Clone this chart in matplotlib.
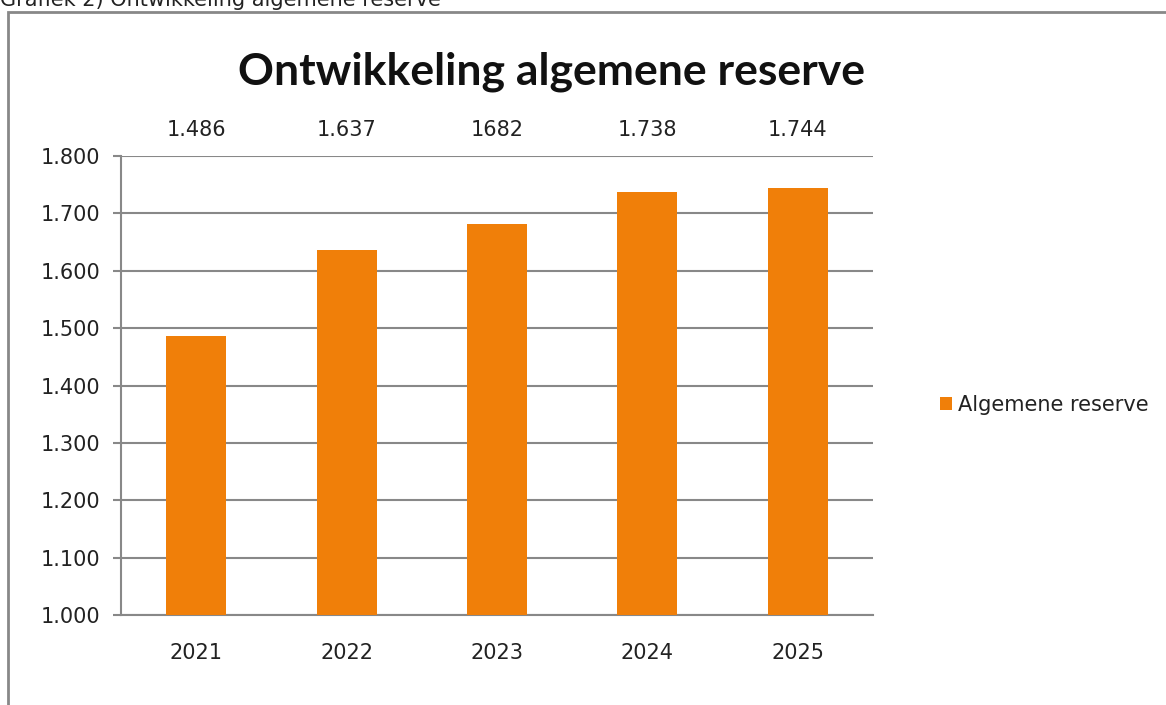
import matplotlib.pyplot as plt
import matplotlib.patches as mpatches
import matplotlib.transforms as mtransforms
import numpy as np

years = ['2021', '2022', '2023', '2024', '2025']
reserve = [1486, 1637, 1682, 1738, 1744]
value_labels = ['1.486', '1.637', '1682', '1.738', '1.744']
y_ticks = [1000, 1100, 1200, 1300, 1400, 1500, 1600, 1700, 1800]
y_tick_labels = ['1.000', '1.100', '1.200', '1.300', '1.400', '1.500', '1.600', '1.700', '1.800']

orange = '#F07F09'
grey = '#888888'
txt = '#222222'

plt.rcParams['font.family'] = ['DejaVu Sans']

fig = plt.figure(figsize=(11.66, 7.05), dpi=100)
W, H = 1166, 705

# outer chart frame (runs off the right and bottom edge)
frame = mpatches.Rectangle((8 / W, -0.1), 1.2, 1 - 12 / H + 0.1, transform=fig.transFigure,
                           fill=False, edgecolor=grey, linewidth=2, clip_on=False)
fig.patches.append(frame)

# caption above the frame, cut off by the top edge as in the original
fig.text(0.0, 1 - 6 / H, 'Grafiek 2) Ontwikkeling algemene reserve', fontsize=15,
         ha='left', va='baseline', color=txt)

ax = fig.add_axes([121 / W, 1 - 615 / H, (873 - 121) / W, (615 - 156) / H])
x = np.arange(len(years))
ax.bar(x, reserve, width=0.4, color=orange, label='Algemene reserve', zorder=3)

ax.set_xlim(-0.5, len(years) - 0.5)
ax.set_ylim(1000, 1800)
ax.set_yticks(y_ticks)
ax.set_yticklabels(y_tick_labels)
ax.set_xticks(x)
ax.set_xticklabels(years)
ax.tick_params(axis='y', length=6, color=grey, width=1.5, labelsize=15, pad=9, labelcolor=txt)
ax.tick_params(axis='x', length=0, labelsize=15, pad=20, labelcolor=txt)
ax.grid(axis='y', color=grey, linewidth=1.5, zorder=0)

for side in ['top', 'right']:
    ax.spines[side].set_visible(False)
for side in ['left', 'bottom']:
    ax.spines[side].set_color(grey)
    ax.spines[side].set_linewidth(1.5)

# value labels sit in a row above the plot area
row = mtransforms.blended_transform_factory(ax.transData, fig.transFigure)
for xi, lab in zip(x, value_labels):
    ax.text(xi, 1 - 130 / H, lab, transform=row, ha='center', va='center',
            fontsize=15, color=txt)

fig.text(552 / W, 1 - 72 / H, 'Ontwikkeling algemene reserve', ha='center', va='center',
         fontsize=32, fontweight='bold', family='Lato', color='#111111')

ax.legend(loc='center left', bbox_to_anchor=(921 / W, 1 - 405 / H), bbox_transform=fig.transFigure,
          frameon=False, fontsize=15, handlelength=0.6, handleheight=0.6, handletextpad=0.3,
          labelcolor=txt)

fig.savefig('out.png', dpi=100)
